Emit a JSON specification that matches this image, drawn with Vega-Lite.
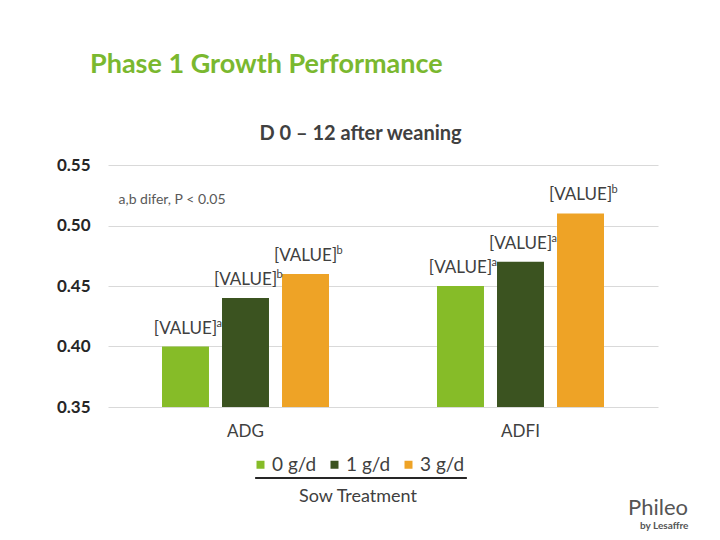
{
  "$schema": "https://vega.github.io/schema/vega-lite/v6.json",
  "width": 550,
  "height": 242,
  "autosize": {"type": "none"},
  "padding": {"left": 108, "top": 165, "right": 62, "bottom": 133},
  "background": "white",
  "title": {
    "text": "Phase 1 Growth Performance",
    "anchor": "start",
    "frame": "group",
    "dx": -18,
    "offset": 44,
    "font": "Lato",
    "fontSize": 27,
    "fontWeight": "bold",
    "color": "#7ab82f"
  },
  "config": {"view": {"stroke": null}},
  "data": {
    "values": [
      {"m": "ADG", "t": "0 g/d", "v": 0.40, "sup": "a"},
      {"m": "ADG", "t": "1 g/d", "v": 0.44, "sup": "b"},
      {"m": "ADG", "t": "3 g/d", "v": 0.46, "sup": "b"},
      {"m": "ADFI", "t": "0 g/d", "v": 0.45, "sup": "a"},
      {"m": "ADFI", "t": "1 g/d", "v": 0.47, "sup": "a"},
      {"m": "ADFI", "t": "3 g/d", "v": 0.51, "sup": "b"}
    ]
  },
  "encoding": {
    "x": {
      "field": "m", "type": "nominal", "sort": ["ADG", "ADFI"],
      "scale": {"paddingInner": 0, "paddingOuter": 0},
      "axis": {
        "title": null, "labelAngle": 0, "ticks": false, "domain": false,
        "labelFont": "Lato", "labelFontSize": 17, "labelColor": "#404040", "labelPadding": 16
      }
    },
    "y": {
      "field": "v", "type": "quantitative",
      "scale": {"domain": [0.35, 0.55], "zero": false, "nice": false},
      "axis": {
        "title": "D 0 – 12 after weaning",
        "titleAngle": 0, "titleX": 252, "titleY": -32,
        "titleAlign": "center", "titleBaseline": "middle",
        "titleFont": "Lato", "titleFontSize": 20, "titleFontWeight": "bold", "titleColor": "#404040",
        "values": [0.35, 0.4, 0.45, 0.5, 0.55], "format": ".2f",
        "labelFont": "Lato", "labelFontSize": 17, "labelFontWeight": "bold", "labelColor": "#262626",
        "labelPadding": 18, "domain": false, "ticks": false, "gridColor": "#d9d9d9"
      }
    }
  },
  "layer": [
    {
      "mark": {"type": "bar"},
      "encoding": {
        "xOffset": {"field": "t", "type": "nominal", "scale": {"paddingInner": 0.217, "paddingOuter": 0.9}},
        "y2": {"datum": 0.35},
        "color": {
          "field": "t", "type": "nominal",
          "scale": {"domain": ["0 g/d", "1 g/d", "3 g/d"], "range": ["#86bc28", "#3b5320", "#eea326"]},
          "legend": {
            "title": "Sow Treatment",
            "orient": "none", "legendX": 143, "legendY": 290,
            "direction": "horizontal", "titleOrient": "bottom", "titleAnchor": "middle",
            "titlePadding": 13,
            "symbolType": "square", "symbolSize": 64, "symbolStrokeWidth": 0,
            "labelFont": "Lato", "labelFontSize": 19, "labelColor": "#404040", "labelOffset": 2,
            "columnPadding": 8,
            "titleFont": "Lato", "titleFontSize": 18, "titleFontWeight": "normal", "titleColor": "#404040"
          }
        }
      }
    },
    {
      "mark": {"type": "text", "baseline": "bottom", "dy": -9, "font": "Lato", "fontSize": 17, "color": "#404040"},
      "encoding": {
        "xOffset": {"field": "t", "type": "nominal"},
        "text": {"value": "[VALUE]"}
      }
    },
    {
      "mark": {"type": "text", "align": "left", "baseline": "bottom", "dx": 31, "dy": -18, "font": "Lato", "fontSize": 11, "color": "#404040"},
      "encoding": {
        "xOffset": {"field": "t", "type": "nominal"},
        "text": {"field": "sup"}
      }
    },
    {
      "transform": [{"filter": "datum.m === 'ADG' && datum.t === '0 g/d'"}],
      "mark": {"type": "text", "align": "left", "baseline": "middle", "dx": -127, "font": "Lato", "fontSize": 14, "color": "#595959"},
      "encoding": {
        "y": {"datum": 0.521},
        "text": {"value": "a,b difer, P < 0.05"}
      }
    },
    {
      "transform": [{"filter": "datum.m === 'ADG' && datum.t === '0 g/d'"}],
      "mark": {"type": "rule", "color": "#262626", "strokeWidth": 2, "clip": false},
      "encoding": {
        "x": {"datum": "ADG", "bandPosition": 0.535},
        "x2": {"datum": "ADFI", "bandPosition": 0.305},
        "y": {"datum": 0.2913}
      }
    },
    {
      "transform": [{"filter": "datum.m === 'ADG' && datum.t === '0 g/d'"}],
      "mark": {"type": "text", "align": "left", "baseline": "middle", "dx": -30, "font": "Lato", "fontSize": 22, "color": "#555555"},
      "encoding": {
        "x": {"datum": "ADFI", "bandPosition": 1},
        "y": {"datum": 0.2666},
        "text": {"value": "Phileo"}
      }
    },
    {
      "transform": [{"filter": "datum.m === 'ADG' && datum.t === '0 g/d'"}],
      "mark": {"type": "text", "align": "left", "baseline": "middle", "dx": -18, "font": "Lato", "fontSize": 10, "fontWeight": "bold", "color": "#555555"},
      "encoding": {
        "x": {"datum": "ADFI", "bandPosition": 1},
        "y": {"datum": 0.2515},
        "text": {"value": "by Lesaffre"}
      }
    }
  ]
}
